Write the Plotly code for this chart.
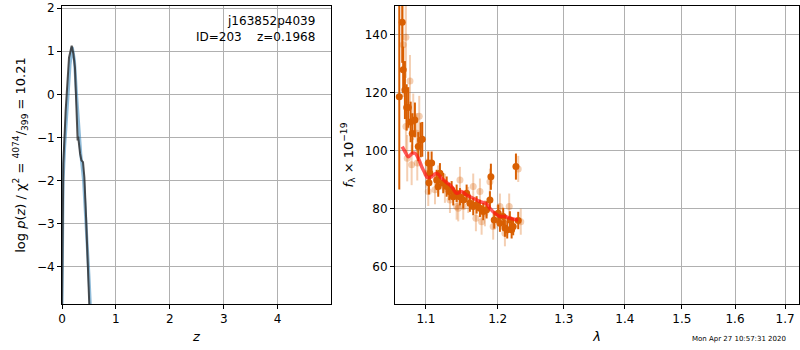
import plotly.graph_objects as go

# ---------------- left panel: log p(z) ----------------
z_fit = [0.0, 0.02, 0.05, 0.10, 0.15, 0.19, 0.23, 0.27, 0.31, 0.35, 0.40, 0.45, 0.50, 0.53]
lnp_fit = [-4.9, -2.0, -1.2, -0.2, 0.7, 1.1, 0.8, 0.0, -0.8, -1.4, -2.0, -3.0, -4.2, -5.0]

z_pz = [0.0, 0.025, 0.068, 0.118, 0.13, 0.18, 0.21, 0.24, 0.27, 0.29, 0.30, 0.335, 0.36, 0.39,
        0.415, 0.446, 0.49, 0.51]
lnp_pz = [-4.9, -1.6, -0.37, 0.79, 0.85, 1.13, 0.95, 0.63, -0.37, -1.07, -0.98, -1.37, -1.53,
          -1.57, -1.92, -2.84, -4.84, -5.0]

# ---------------- right panel: spectrum ----------------
lam_dark = [1.0650, 1.0688, 1.0701, 1.0723, 1.0746, 1.0767, 1.0798, 1.0819, 1.0854, 1.0898,
            1.0930, 1.0951, 1.1031, 1.1040, 1.1053, 1.1076, 1.1144, 1.1165, 1.1188, 1.1233,
            1.1280, 1.1315, 1.1348, 1.1370, 1.1417, 1.1463, 1.1509, 1.1556, 1.1602, 1.1649,
            1.1697, 1.1744, 1.1791, 1.1839, 1.1887, 1.1901, 1.1949, 1.2007, 1.2032, 1.2080,
            1.2105, 1.2139, 1.2178, 1.2204, 1.2227, 1.2268, 1.2302]
flux_dark = [118.7, 144.4, 128.0, 121.0, 115.0, 115.0, 110.0, 106.0, 110.7, 101.5,
             103.8, 104.0, 95.8, 89.0, 92.3, 95.8, 90.0, 87.7, 92.3, 88.9,
             87.7, 86.0, 86.6, 84.2, 85.4, 84.2, 83.1, 85.4, 82.0, 80.8,
             81.4, 80.2, 79.1, 79.7, 83.1, 91.1, 76.2, 78.5, 75.1, 77.4,
             73.4, 72.8, 76.2, 72.8, 73.9, 94.6, 76.0]
err_dark = [32.0, 14.0, 8.0, 10.0, 8.0, 7.0, 7.0, 7.0, 6.0, 5.0,
            6.0, 6.0, 4.0, 4.0, 3.5, 4.0, 3.5, 3.5, 3.5, 3.5,
            3.5, 3.0, 3.0, 3.0, 3.0, 3.0, 3.0, 3.0, 3.0, 3.0,
            3.0, 3.0, 3.0, 3.0, 3.0, 4.5, 3.0, 3.0, 3.0, 3.0,
            3.0, 3.0, 3.0, 3.0, 3.0, 4.5, 3.0]

lam_light = [1.0701, 1.0736, 1.0789, 1.0736, 1.0832, 1.0911, 1.0877, 1.0753, 1.0811, 1.0885,
             1.1009, 1.1031, 1.1121, 1.1165, 1.1256, 1.1325, 1.1417, 1.1439, 1.1463, 1.1509,
             1.1579, 1.1649, 1.1687, 1.1744, 1.1768, 1.1815, 1.1887, 1.1934, 1.2032, 1.2105,
             1.2168, 1.2302, 1.2340]
flux_light = [136.6, 139.2, 124.1, 108.4, 111.8, 112.0, 106.1, 97.5, 95.2, 95.8,
              92.3, 86.0, 86.6, 90.0, 87.1, 83.1, 80.8, 80.2, 90.0, 80.8,
              83.1, 87.7, 76.8, 86.0, 75.6, 78.5, 89.4, 73.9, 80.8, 71.6,
              80.8, 93.8, 75.6]
err_light = [18.0, 14.0, 9.0, 9.0, 8.0, 7.0, 7.0, 8.0, 7.0, 6.0,
             5.0, 5.0, 5.0, 5.0, 5.0, 4.5, 4.5, 4.5, 4.5, 4.5,
             4.5, 4.5, 4.5, 4.5, 4.5, 4.5, 4.5, 4.5, 4.5, 4.5,
             4.5, 4.5, 4.5]

lam_model = [1.0688, 1.0723, 1.0767, 1.0811, 1.0854, 1.0898, 1.0943, 1.0987, 1.1017, 1.1076,
             1.1144, 1.1211, 1.1280, 1.1348, 1.1417, 1.1486, 1.1556, 1.1649, 1.1744, 1.1839,
             1.1887, 1.1959, 1.2032, 1.2105, 1.2178, 1.2302]
flux_model = [101.5, 99.8, 98.0, 99.0, 99.2, 97.5, 94.6, 92.3, 90.9, 91.1,
              92.3, 90.6, 89.1, 87.7, 85.4, 86.0, 84.8, 83.7, 82.5, 81.7,
              80.2, 78.5, 77.4, 77.4, 76.8, 76.2]

x_ticks_right = [1.1, 1.2, 1.3, 1.4, 1.5, 1.6, 1.7]
y_ticks_right = [60, 80, 100, 120, 140]

DARK = "#d95f02"
LIGHT = "rgba(217,95,2,0.3)"

fig = go.Figure()

fig.add_trace(go.Scatter(x=z_fit, y=lnp_fit, mode="lines",
                         line=dict(color="rgba(31,119,180,0.5)", width=3),
                         xaxis="x", yaxis="y", showlegend=False))
fig.add_trace(go.Scatter(x=z_pz, y=lnp_pz, mode="lines",
                         line=dict(color="rgba(40,40,40,0.8)", width=2),
                         xaxis="x", yaxis="y", showlegend=False))

fig.add_trace(go.Scatter(x=lam_light, y=flux_light, mode="markers",
                         marker=dict(color=LIGHT, size=7),
                         error_y=dict(type="data", array=err_light, color=LIGHT,
                                      thickness=2, width=0),
                         xaxis="x2", yaxis="y2", showlegend=False))
fig.add_trace(go.Scatter(x=lam_dark, y=flux_dark, mode="markers",
                         marker=dict(color=DARK, size=7),
                         error_y=dict(type="data", array=err_dark, color=DARK,
                                      thickness=2, width=0),
                         xaxis="x2", yaxis="y2", showlegend=False))
fig.add_trace(go.Scatter(x=lam_model, y=flux_model, mode="lines",
                         line=dict(color="rgba(255,20,20,0.7)", width=3.5, shape="spline"),
                         xaxis="x2", yaxis="y2", showlegend=False))

axis_common = dict(showline=True, linecolor="black", linewidth=1, mirror=True,
                   ticks="outside", ticklen=4, tickcolor="black",
                   showgrid=True, gridcolor="#b0b0b0", gridwidth=1,
                   zeroline=False, automargin=False,
                   tickfont=dict(family="DejaVu Sans", size=12, color="black"))

fig.update_layout(
    width=800, height=350,
    margin=dict(l=0, r=0, t=0, b=0),
    paper_bgcolor="white", plot_bgcolor="white",
    font=dict(family="DejaVu Sans", color="black"),
    xaxis=dict(domain=[0.0775, 0.41375], range=[0, 4.99], tickvals=[0, 1, 2, 3, 4],
               title=dict(text="<i>z</i>", font=dict(size=13), standoff=6), anchor="y",
               **axis_common),
    yaxis=dict(domain=[0.1314, 0.9829], range=[-4.86, 2.05], tickvals=[-4, -3, -2, -1, 0, 1, 2],
               ticktext=["−4", "−3", "−2", "−1", "0", "1", "2"],
               title=dict(text="log <i>p</i>(<i>z</i>) / χ<sup>2</sup> = <sup>4074</sup>/<sub>399</sub> = 10.21",
                          font=dict(size=13), standoff=8), anchor="x",
               **axis_common),
    xaxis2=dict(domain=[0.49375, 0.99875], type="log", range=[0.0251, 0.2378],
                tickvals=x_ticks_right, ticktext=[str(v) for v in x_ticks_right],
                title=dict(text="<i>λ</i>", font=dict(size=13), standoff=6), anchor="y2",
                **axis_common),
    yaxis2=dict(domain=[0.1314, 0.9829], range=[47.2, 150], tickvals=y_ticks_right,
                title=dict(text="<i>f</i><sub>λ</sub> × 10<sup>−19</sup>", font=dict(size=13), standoff=8),
                anchor="x2",
                **axis_common),
    annotations=[
        dict(text="j163852p4039<br>ID=203    z=0.1968", x=0.396, y=0.965, xref="paper", yref="paper",
             xanchor="right", yanchor="top", align="right", showarrow=False,
             font=dict(size=12, family="DejaVu Sans", color="black")),
        dict(text="Mon Apr 27 10:57:31 2020", x=0.985, y=0.031, xref="paper", yref="paper",
             xanchor="right", yanchor="middle", showarrow=False,
             font=dict(size=7, family="DejaVu Sans", color="black")),
    ],
)

fig.write_html("out.html", config={"displayModeBar": False},
               post_script="document.body.style.margin='0';document.body.style.overflow='hidden';")
